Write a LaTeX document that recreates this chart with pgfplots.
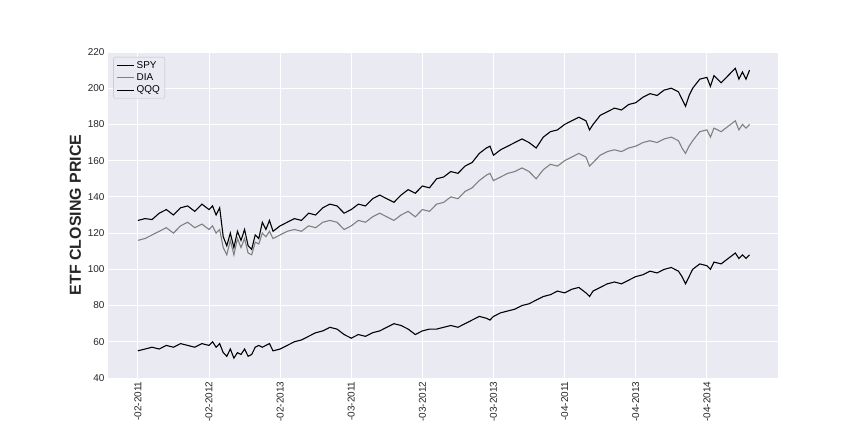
\documentclass[border=0pt]{standalone}
\usepackage{pgfplots}
\pgfplotsset{compat=1.18}
\usepackage{fontspec}
\setmainfont{Liberation Sans}
\definecolor{bgc}{HTML}{EAEAF2}
\definecolor{tk}{HTML}{262626}
\begin{document}
\begin{tikzpicture}[x=1bp,y=1bp]
\path[fill=white] (0,0) rectangle (864,432);
\begin{axis}[at={(108bp,54bp)},anchor=south west,scale only axis,
 width=670bp,height=326bp,
 xmin=-0.42,xmax=9.0,ymin=40,ymax=220,
 axis background/.style={fill=bgc},
 axis line style={draw=none},
 grid=major,grid style={white,line width=0.9pt},
 major tick length=0pt,
 ytick={40,60,...,220},
 xtick={0,...,8},
 xticklabels={-02-2011,-02-2012,-02-2013,-03-2011,-03-2012,-03-2013,-04-2011,-04-2013,-04-2014},
 x tick label style={rotate=90,anchor=east,font=\fontsize{10}{11}\selectfont,text=tk},
 y tick label style={font=\fontsize{10}{11}\selectfont,text=tk},
 /pgf/number format/assume math mode=true,
 ylabel={\bfseries ETF CLOSING PRICE},
 ylabel style={font=\fontsize{16}{18}\selectfont,text=tk},
 legend style={at={(0.008,0.985)},anchor=north west,font=\fontsize{10}{12}\selectfont,draw=lightgray,rounded corners=2pt,fill=bgc,fill opacity=0.8,text opacity=1},
 legend cell align=left,
]
\addplot[black,line width=1.1pt] coordinates {
(0,127)(0.1,128)(0.2,127.5)(0.3,131)(0.4,133)(0.5,130)(0.6,134)(0.7,135)(0.8,132)(0.9,136)(1.0,133)(1.05,135)(1.1,130)(1.15,134)(1.2,118)(1.25,113)(1.3,120)(1.35,112)(1.4,121)(1.45,116)(1.5,122)(1.55,113)(1.6,111)(1.65,119)(1.7,117)(1.75,126)(1.8,122)(1.85,127)(1.9,121)(2.0,124)(2.1,126)(2.2,128)(2.3,127)(2.4,131)(2.5,130)(2.6,134)(2.7,136)(2.8,135)(2.9,131)(3.0,133)(3.1,136)(3.2,135)(3.3,139)(3.4,141)(3.5,139)(3.6,137)(3.7,141)(3.8,144)(3.9,142)(4.0,146)(4.1,145)(4.2,150)(4.3,151)(4.4,154)(4.5,153)(4.6,157)(4.7,159)(4.8,164)(4.9,167)(4.95,168)(5.0,163)(5.1,166)(5.2,168)(5.3,170)(5.4,172)(5.5,170)(5.6,167)(5.7,173)(5.8,176)(5.9,177)(6.0,180)(6.1,182)(6.2,184)(6.3,182)(6.35,177)(6.4,180)(6.5,185)(6.6,187)(6.7,189)(6.8,188)(6.9,191)(7.0,192)(7.1,195)(7.2,197)(7.3,196)(7.4,199)(7.5,200)(7.6,198)(7.65,194)(7.7,190)(7.75,196)(7.8,200)(7.9,205)(8.0,206)(8.05,201)(8.1,207)(8.2,203)(8.3,207)(8.4,211)(8.45,205)(8.5,209)(8.55,205)(8.6,210)};
\addlegendentry{SPY}
\addplot[gray,line width=1.1pt] coordinates {
(0,116)(0.1,117)(0.2,119)(0.3,121)(0.4,123)(0.5,120)(0.6,124)(0.7,126)(0.8,123)(0.9,125)(1.0,122)(1.05,124)(1.1,120)(1.15,122)(1.2,112)(1.25,108)(1.3,116)(1.35,108)(1.4,117)(1.45,112)(1.5,117)(1.55,109)(1.6,108)(1.65,115)(1.7,114)(1.75,120)(1.8,118)(1.85,121)(1.9,117)(2.0,119)(2.1,121)(2.2,122)(2.3,121)(2.4,124)(2.5,123)(2.6,126)(2.7,127)(2.8,126)(2.9,122)(3.0,124)(3.1,127)(3.2,126)(3.3,129)(3.4,131)(3.5,129)(3.6,127)(3.7,130)(3.8,132)(3.9,129)(4.0,133)(4.1,132)(4.2,136)(4.3,137)(4.4,140)(4.5,139)(4.6,143)(4.7,145)(4.8,149)(4.9,152)(4.95,153)(5.0,149)(5.1,151)(5.2,153)(5.3,154)(5.4,156)(5.5,154)(5.6,150)(5.7,155)(5.8,158)(5.9,157)(6.0,160)(6.1,162)(6.2,164)(6.3,162)(6.35,157)(6.4,159)(6.5,163)(6.6,165)(6.7,166)(6.8,165)(6.9,167)(7.0,168)(7.1,170)(7.2,171)(7.3,170)(7.4,172)(7.5,173)(7.6,171)(7.65,167)(7.7,164)(7.75,168)(7.8,171)(7.9,176)(8.0,177)(8.05,173)(8.1,178)(8.2,176)(8.3,179)(8.4,182)(8.45,177)(8.5,180)(8.55,178)(8.6,180)};
\addlegendentry{DIA}
\addplot[black,line width=1.1pt] coordinates {
(0,55)(0.1,56)(0.2,57)(0.3,56)(0.4,58)(0.5,57)(0.6,59)(0.7,58)(0.8,57)(0.9,59)(1.0,58)(1.05,60)(1.1,57)(1.15,59)(1.2,54)(1.25,52)(1.3,56)(1.35,51)(1.4,54)(1.45,53)(1.5,56)(1.55,52)(1.6,53)(1.65,57)(1.7,58)(1.75,57)(1.8,58)(1.85,59)(1.9,55)(2.0,56)(2.1,58)(2.2,60)(2.3,61)(2.4,63)(2.5,65)(2.6,66)(2.7,68)(2.8,67)(2.9,64)(3.0,62)(3.1,64)(3.2,63)(3.3,65)(3.4,66)(3.5,68)(3.6,70)(3.7,69)(3.8,67)(3.9,64)(4.0,66)(4.1,67)(4.2,67)(4.3,68)(4.4,69)(4.5,68)(4.6,70)(4.7,72)(4.8,74)(4.9,73)(4.95,72)(5.0,74)(5.1,76)(5.2,77)(5.3,78)(5.4,80)(5.5,81)(5.6,83)(5.7,85)(5.8,86)(5.9,88)(6.0,87)(6.1,89)(6.2,90)(6.3,87)(6.35,85)(6.4,88)(6.5,90)(6.6,92)(6.7,93)(6.8,92)(6.9,94)(7.0,96)(7.1,97)(7.2,99)(7.3,98)(7.4,100)(7.5,101)(7.6,99)(7.65,96)(7.7,92)(7.75,96)(7.8,100)(7.9,103)(8.0,102)(8.05,100)(8.1,104)(8.2,103)(8.3,106)(8.4,109)(8.45,106)(8.5,108)(8.55,106)(8.6,108)};
\addlegendentry{QQQ}
\end{axis}
\end{tikzpicture}
\end{document}
